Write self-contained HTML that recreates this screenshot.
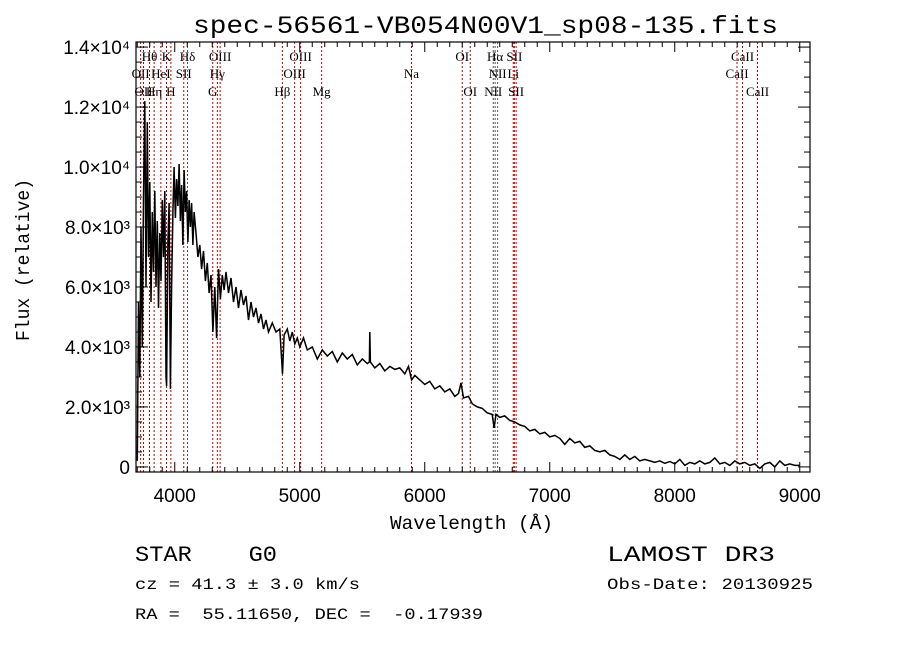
<!DOCTYPE html>
<html><head><meta charset="utf-8"><style>
html,body{margin:0;padding:0;background:#fff;}
svg{display:block;}
text{fill:#000;white-space:pre;}
</style></head><body>
<svg id="chart" width="900" height="649" viewBox="0 0 900 649" xmlns="http://www.w3.org/2000/svg" xml:space="preserve">
<text x="193" y="33" textLength="585" lengthAdjust="spacingAndGlyphs" font-family="Liberation Mono, monospace" font-size="25">spec-56561-VB054N00V1_sp08-135.fits</text>
<g id="lines"></g>
<g id="labels" font-family="Liberation Serif, serif" font-size="13"></g>
<g id="series"></g>
<rect x="136" y="42" width="674" height="430" fill="none" stroke="#000" stroke-width="1.2"/>
<g id="axes"></g>
<text x="390" y="529" textLength="163" lengthAdjust="spacingAndGlyphs" font-family="Liberation Mono, monospace" font-size="19">Wavelength (Å)</text>
<text transform="translate(29,341) rotate(-90)" textLength="162" lengthAdjust="spacingAndGlyphs" font-family="Liberation Mono, monospace" font-size="19">Flux (relative)</text>
<text x="135" y="561" textLength="142" lengthAdjust="spacingAndGlyphs" font-family="Liberation Mono, monospace" font-size="22">STAR    G0</text>
<text x="135" y="589" textLength="225" lengthAdjust="spacingAndGlyphs" font-family="Liberation Mono, monospace" font-size="16">cz = 41.3 ± 3.0 km/s</text>
<text x="135" y="619" textLength="348" lengthAdjust="spacingAndGlyphs" font-family="Liberation Mono, monospace" font-size="16">RA =  55.11650, DEC =  -0.17939</text>
<text x="607" y="561" textLength="168" lengthAdjust="spacingAndGlyphs" font-family="Liberation Mono, monospace" font-size="22">LAMOST DR3</text>
<text x="607" y="589" textLength="206" lengthAdjust="spacingAndGlyphs" font-family="Liberation Mono, monospace" font-size="16">Obs-Date: 20130925</text>
</svg>
<script>
const wavelengths=[3700,3710,3720,3730,3740,3750,3760,3770,3780,3790,3800,3810,3820,3830,3840,3850,3860,3870,3880,3890,3900,3910,3920,3930,3935,3945,3955,3965,3975,3985,3995,4005,4015,4025,4035,4045,4055,4065,4075,4085,4095,4105,4115,4125,4135,4145,4155,4170,4185,4200,4215,4230,4245,4260,4275,4290,4305,4320,4335,4350,4365,4380,4395,4410,4430,4450,4470,4490,4510,4530,4550,4570,4590,4610,4630,4650,4670,4690,4710,4730,4750,4780,4810,4840,4862,4875,4900,4920,4940,4960,4980,5000,5030,5060,5100,5140,5180,5220,5260,5300,5340,5380,5420,5460,5500,5540,5557,5560,5565,5600,5640,5680,5720,5760,5800,5840,5870,5895,5920,5960,6000,6040,6080,6120,6160,6200,6240,6270,6290,6310,6350,6380,6420,6460,6500,6540,6555,6570,6600,6640,6680,6720,6760,6800,6840,6880,6920,6960,7000,7040,7080,7120,7160,7200,7240,7280,7320,7360,7400,7440,7480,7520,7560,7600,7640,7680,7720,7760,7800,7840,7880,7920,7960,8000,8040,8080,8120,8160,8200,8240,8280,8320,8360,8400,8440,8480,8520,8560,8600,8640,8680,8720,8760,8800,8840,8880,8920,8960,9000];
const fluxes=[200,5500,3000,8000,4000,9000,12200,6000,11500,7000,9500,5500,8500,6500,9200,6000,8200,5300,7800,6200,8900,7000,9200,3000,2700,7500,8800,2600,6000,8500,10000,8300,9600,8700,10100,8200,9400,7400,9900,8500,9200,7500,8900,8000,8800,7400,8500,7800,7000,7400,6600,7200,6200,6800,5800,6400,4500,6000,4300,6600,5600,6400,5900,6500,5800,6300,5500,6000,5300,5900,5400,5700,4900,5500,5000,5300,4800,5100,4600,4900,4500,4800,4500,4600,3100,4400,4600,4200,4500,4100,4300,4000,4300,3900,4000,3600,3900,3700,3850,3500,3800,3600,3750,3400,3600,3450,3500,4500,3500,3300,3450,3200,3350,3250,3300,3100,3350,2900,3050,2900,2750,2850,2600,2700,2500,2600,2350,2450,2800,2300,2350,2100,2000,1950,1800,1750,1300,1750,1650,1700,1550,1500,1400,1350,1200,1250,1100,1150,1000,1050,950,750,950,800,850,650,700,550,500,550,400,350,250,400,250,350,200,250,200,150,200,120,180,100,250,50,150,100,200,100,150,300,100,150,50,200,100,150,50,100,-50,100,150,0,200,50,100,50,50];
const lineWaves=[3727,3750,3798,3835,3889,3934,3969,4072,4102,4304,4341,4363,4861,4959,5007,5175,5894,6300,6364,6548,6563,6583,6708,6717,6731,8498,8542,8662];
const lineNames=["OII","OII","Hθ","Hη","HeI","K","H","SII","Hδ","G","Hγ","OIII","Hβ","OIII","OIII","Mg","Na","OI","OI","NII","Hα","NII","Li","SII","SII","CaII","CaII","CaII"];
const lineRows=[2,3,1,3,2,1,3,2,1,3,2,1,3,2,1,3,2,1,3,3,1,2,2,1,3,2,1,3];
const xTicks=[4000,5000,6000,7000,8000,9000];
const yTicks=[0,2000,4000,6000,8000,10000,12000,14000];
const yTickLabels=["0","2.0×10³","4.0×10³","6.0×10³","8.0×10³","1.0×10⁴","1.2×10⁴","1.4×10⁴"];

const L=136,R=810,T=42,B=472,XMIN=3690,XMAX=9082,YMIN=-170,YMAX=14170;
const xs=w=>L+(w-XMIN)/(XMAX-XMIN)*(R-L);
const ys=f=>B-(f-YMIN)/(YMAX-YMIN)*(B-T);
const NS="http://www.w3.org/2000/svg";
function mk(tag,attrs,parent){const e=document.createElementNS(NS,tag);for(const k in attrs)e.setAttribute(k,attrs[k]);parent.appendChild(e);return e;}

const lg=document.getElementById('lines'),lb=document.getElementById('labels');
const dark=[4102,6548,6563,6583];
lineWaves.forEach((w,i)=>{
  const x=xs(w);
  const ln=mk('line',{x1:x,x2:x,y1:T,y2:B,stroke:dark.includes(w)?'#555':'#c00000','stroke-width':1,'stroke-dasharray':'2,2'},lg);
  
  
  const t=mk('text',{x:x,y:[0,61,78,96][lineRows[i]],'text-anchor':'middle'},lb);
  t.textContent=lineNames[i];
  
  
});

const sg=document.getElementById('series');
let pts=wavelengths.map((w,i)=>xs(w).toFixed(1)+','+ys(fluxes[i]).toFixed(1)).join(' ');
const pl=mk('polyline',{points:pts,fill:'none',stroke:'#000','stroke-width':1.5},sg);



const ax=document.getElementById('axes');
for(let w=3700;w<=9000;w+=100){
  const x=xs(w),maj=w%1000===0,len=maj?10:5;
  mk('line',{x1:x,x2:x,y1:B,y2:B-len,stroke:'#000'},ax);
  mk('line',{x1:x,x2:x,y1:T,y2:T+len,stroke:'#000'},ax);
}
xTicks.forEach(w=>{
  const t=mk('text',{x:xs(w),y:B+30,'text-anchor':'middle','font-family':'Liberation Sans, sans-serif','font-size':19},ax);
  t.textContent=w;
  
  
});
for(let f=0;f<=14000;f+=500){
  const y=ys(f),maj=f%2000===0,len=maj?12:6;
  mk('line',{x1:L,x2:L+len,y1:y,y2:y,stroke:'#000'},ax);
  mk('line',{x1:R,x2:R-len,y1:y,y2:y,stroke:'#000'},ax);
}
yTicks.forEach((f,i)=>{
  const t=mk('text',{x:L-6,y:ys(f)+7,'text-anchor':'end','font-family':'Liberation Sans, sans-serif','font-size':19},ax);
  t.textContent=yTickLabels[i];
  
  
});
</script>
</body></html>
